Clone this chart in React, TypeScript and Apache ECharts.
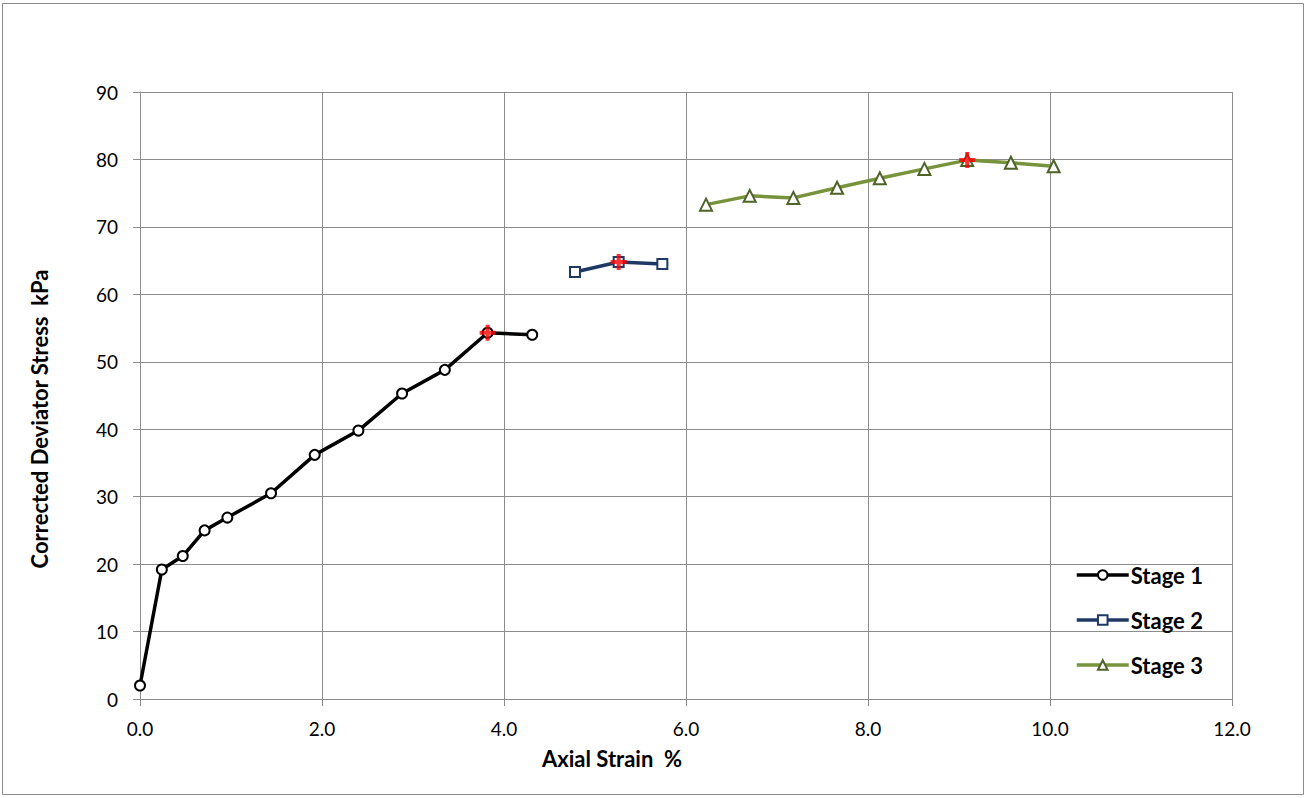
import React, { useEffect, useRef } from "react";
import * as echarts from "echarts";

const stage1X = [0.0, 0.24, 0.47, 0.71, 0.96, 1.44, 1.92, 2.4, 2.88, 3.35, 3.82, 4.31];
const stage1Y = [2.0, 19.2, 21.2, 25.0, 26.9, 30.5, 36.2, 39.8, 45.3, 48.8, 54.3, 54.0];
const stage2X = [4.78, 5.26, 5.74];
const stage2Y = [63.3, 64.8, 64.5];
const stage3X = [6.22, 6.7, 7.18, 7.66, 8.13, 8.62, 9.09, 9.57, 10.04];
const stage3Y = [73.3, 74.6, 74.3, 75.8, 77.2, 78.6, 79.9, 79.5, 79.0];
const peakX = [3.82, 5.26, 9.09];
const peakY = [54.3, 64.8, 79.9];

const zip = (xs: number[], ys: number[]) => xs.map((x, i) => [x, ys[i]]);

const FONT = "Lato, 'Open Sans', sans-serif";

export default function App() {
  const ref = useRef<HTMLDivElement>(null);
  useEffect(() => {
    document.body.style.margin = "0";
    const chart = echarts.init(ref.current!, null, { renderer: "svg" });
    const gridColor = "#8c8c8c";
    chart.setOption({
      animation: false,
      backgroundColor: "#ffffff",
      textStyle: { fontFamily: FONT },
      grid: { left: 140, right: 75, top: 92, bottom: 99 },
      xAxis: {
        type: "value",
        min: 0,
        max: 12,
        interval: 2,
        axisLine: { show: true, lineStyle: { color: gridColor, width: 1 } },
        axisTick: { show: true, inside: false, length: 7, lineStyle: { color: gridColor } },
        splitLine: { show: true, lineStyle: { color: gridColor, width: 1 } },
        axisLabel: {
          color: "#000",
          fontSize: 19,
          fontFamily: FONT,
          margin: 20,
          formatter: (v: number) => v.toFixed(1),
        },
      },
      yAxis: {
        type: "value",
        min: 0,
        max: 90,
        interval: 10,
        axisLine: { show: true, lineStyle: { color: gridColor, width: 1 } },
        axisTick: { show: true, inside: false, length: 7, lineStyle: { color: gridColor } },
        splitLine: { show: true, lineStyle: { color: gridColor, width: 1 } },
        axisLabel: { color: "#000", fontSize: 19, fontFamily: FONT, margin: 22 },
      },
      legend: {
        orient: "vertical",
        left: 1070,
        top: 559,
        itemWidth: 52,
        itemHeight: 12,
        itemGap: 23,
        lineStyle: { width: 3.5 },
        data: ["Stage 1", "Stage 2", "Stage 3"],
        textStyle: { color: "#000", fontSize: 22, fontWeight: "bold", fontFamily: FONT, padding: [0, 0, 0, -3] },
      },
      graphic: [
        {
          type: "rect",
          shape: { x: 2.5, y: 3.5, width: 1301, height: 791 },
          style: { fill: "none", stroke: "#8c8c8c", lineWidth: 1 },
          silent: true,
        },
        {
          type: "text",
          x: 612,
          y: 758,
          style: {
            text: "Axial Strain  %",
            fill: "#000",
            font: `bold 22px ${FONT}`,
            align: "center",
            verticalAlign: "middle",
          },
        },
        {
          type: "text",
          x: 39,
          y: 419,
          rotation: Math.PI / 2,
          style: {
            text: "Corrected Deviator Stress  kPa",
            fill: "#000",
            font: `bold 22px ${FONT}`,
            align: "center",
            verticalAlign: "middle",
          },
        },
      ],
      series: [
        {
          name: "Stage 1",
          type: "line",
          data: zip(stage1X, stage1Y),
          symbol: "circle",
          symbolSize: 10,
          lineStyle: { color: "#000000", width: 3.5 },
          itemStyle: { color: "#ffffff", borderColor: "#000000", borderWidth: 2 },
          color: "#000000",
        },
        {
          name: "Stage 2",
          type: "line",
          data: zip(stage2X, stage2Y),
          symbol: "rect",
          symbolSize: 10,
          lineStyle: { color: "#1f3864", width: 3.5 },
          itemStyle: { color: "#ffffff", borderColor: "#1f3864", borderWidth: 2 },
          color: "#1f3864",
        },
        {
          name: "Stage 3",
          type: "line",
          data: zip(stage3X, stage3Y),
          symbol: "triangle",
          symbolSize: 12,
          lineStyle: { color: "#77933c", width: 3.5 },
          itemStyle: { color: "#ffffff", borderColor: "#4f6228", borderWidth: 2 },
          color: "#77933c",
        },
        {
          name: "Peak",
          type: "scatter",
          data: zip(peakX, peakY),
          symbol: "path://M3.75,0 H6.25 V3.75 H10 V6.25 H6.25 V10 H3.75 V6.25 H0 V3.75 H3.75 Z",
          symbolSize: 16,
          itemStyle: { color: "#ff0000" },
          z: 10,
        },
      ],
    });
    return () => chart.dispose();
  }, []);
  return <div ref={ref} style={{ width: 1307, height: 798 }} />;
}
